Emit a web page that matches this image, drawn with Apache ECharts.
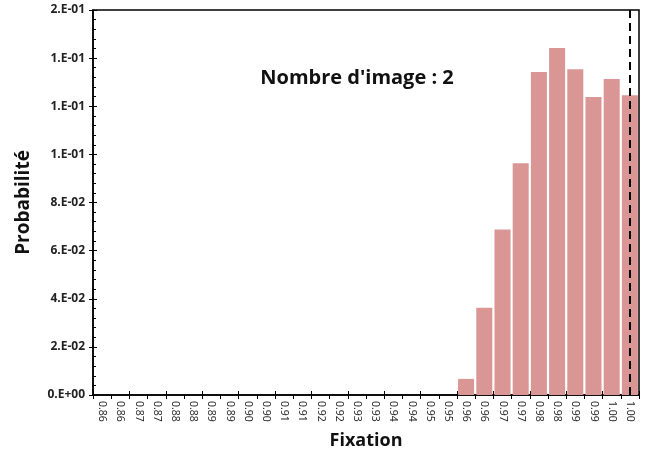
<!DOCTYPE html>
<html>
<head>
<meta charset="utf-8">
<script src="https://cdn.jsdelivr.net/npm/echarts@6/dist/echarts.min.js"></script>
<style>
  html, body { margin: 0; padding: 0; background: #fff; }
  #chart { width: 650px; height: 463px; }
</style>
</head>
<body>
<div id="chart"></div>
<script>
// x categories (rounded fixation bins as printed on the axis)
const categories = ['0.86','0.86','0.87','0.87','0.88','0.88','0.89','0.89','0.90','0.90',
  '0.91','0.91','0.92','0.92','0.93','0.93','0.94','0.94','0.95','0.95',
  '0.96','0.96','0.97','0.97','0.98','0.98','0.99','0.99','1.00','1.00'];

const probabilities = [0,0,0,0,0,0,0,0,0,0,
  0,0,0,0,0,0,0,0,0,0,
  0.0067,0.0363,0.0688,0.0963,0.1342,0.1442,0.1354,0.1238,0.1313,0.1246];

const yTickLabels = ['0.E+00','2.E-02','4.E-02','6.E-02','8.E-02','1.E-01','1.E-01','1.E-01','2.E-01'];
const yStep = 0.02;

// dashed marker position (category index)
const markerIndex = 29;

const chart = echarts.init(document.getElementById('chart'));

const font = '"Open Sans", "Liberation Sans", sans-serif';

const option = {
  animation: false,
  title: {
    text: "Nombre d'image : 2",
    left: 352,
    top: 63,
    textAlign: 'center',
    textStyle: { fontFamily: font, fontSize: 20, fontWeight: 'bold', color: '#111' }
  },
  grid: {
    left: 93, right: 11, top: 10, bottom: 68,
    show: true, borderColor: '#000', borderWidth: 1.5, backgroundColor: 'transparent'
  },
  xAxis: [
    {
      type: 'category',
      data: categories,
      name: 'Fixation',
      nameLocation: 'middle',
      nameGap: 37,
      nameTextStyle: { fontFamily: font, fontSize: 18, fontWeight: 'bold', color: '#111' },
      axisLine: { lineStyle: { color: '#000', width: 1.5 } },
      axisTick: { show: true, length: 4, lineStyle: { color: '#000' } },
      axisLabel: {
        interval: 0, rotate: -90, margin: 6,
        fontFamily: font, fontSize: 10.5, color: '#222'
      },
      splitLine: { show: false }
    },
    {
      type: 'category',
      data: categories,
      position: 'bottom',
      axisLine: { show: false },
      axisTick: { show: true, inside: true, length: 4, lineStyle: { color: '#000' } },
      axisLabel: { show: false },
      splitLine: { show: false }
    }
  ],
  yAxis: [
    {
      type: 'value',
      min: 0, max: 0.16, interval: yStep,
      name: 'Probabilité',
      nameLocation: 'middle',
      nameGap: 60,
      nameRotate: 90,
      nameTextStyle: { fontFamily: font, fontSize: 19, fontWeight: 'bold', color: '#111' },
      axisLine: { show: true, lineStyle: { color: '#000', width: 1.5 } },
      axisTick: { show: true, length: 4, lineStyle: { color: '#000' } },
      axisLabel: {
        margin: 8,
        fontFamily: font, fontSize: 12, fontWeight: 'bold', color: '#222',
        formatter: function (v) { return yTickLabels[Math.round(v / yStep)]; }
      },
      splitLine: { show: false }
    },
    {
      type: 'value',
      min: 0, max: 0.16, interval: yStep,
      position: 'left',
      axisLine: { show: false },
      axisTick: { show: true, inside: true, length: 4, lineStyle: { color: '#000' } },
      minorTick: { show: true, splitNumber: 5, length: 3, lineStyle: { color: '#000' } },
      axisLabel: { show: false },
      splitLine: { show: false }
    }
  ],
  series: [
    {
      type: 'bar',
      data: probabilities,
      barCategoryGap: '12%',
      itemStyle: { color: '#D99694' },
      markLine: {
        silent: true,
        symbol: ['none', 'none'],
        label: { show: false },
        lineStyle: { color: '#000', type: [8, 5], width: 2 },
        data: [{ xAxis: markerIndex }]
      }
    }
  ]
};

chart.setOption(option);
</script>
</body>
</html>
